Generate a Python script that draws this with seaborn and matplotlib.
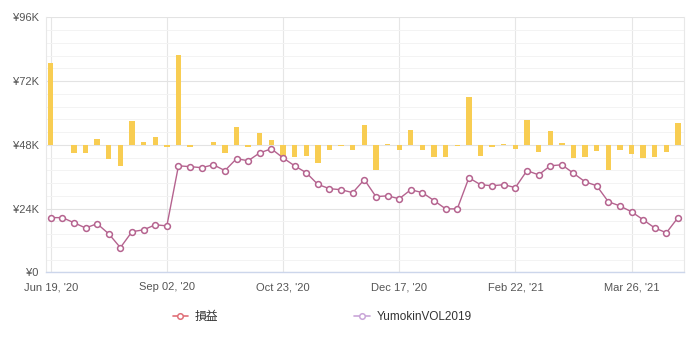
import numpy as np
import pandas as pd
import matplotlib
matplotlib.use("Agg")
import matplotlib.pyplot as plt
from matplotlib.lines import Line2D
from matplotlib.ticker import FuncFormatter, MultipleLocator
import seaborn as sns

# ---- data ----
x_tick_pos = [0, 10, 20, 30, 40, 50]
x_tick_labels = ["Jun 19, '20", "Sep 02, '20", "Oct 23, '20", "Dec 17, '20", "Feb 22, '21", "Mar 26, '21"]

# cumulative line (JPY thousands)
line_k = [20.6, 20.6, 18.7, 16.7, 18.3, 14.5, 9.3, 15.3, 16.0, 17.9,
          17.5, 40.1, 39.8, 39.4, 40.5, 38.3, 42.8, 42.0, 45.0, 46.5,
          43.1, 40.1, 37.5, 33.1, 31.5, 31.1, 30.0, 34.9, 28.5, 28.8,
          27.7, 31.1, 30.0, 27.0, 23.9, 23.9, 35.6, 33.0, 32.6, 33.0,
          31.9, 38.3, 36.7, 40.1, 40.5, 37.3, 34.1, 32.6, 26.6, 25.0,
          22.8, 19.8, 16.7, 14.9, 20.6]

# period P&L bars (JPY thousands, drawn around the ¥48K baseline)
bar_k = [30.9, 0.0, -3.0, -3.0, 2.3, -5.3, -7.9, 9.0, 1.1, 3.0,
         -0.75, 33.9, -0.75, 0.0, 1.1, -3.0, 6.8, -0.75, 4.5, 1.9,
         -4.5, -4.5, -4.1, -6.8, -1.9, -0.5, -1.9, 7.5, -9.4, 0.4,
         -1.9, 5.6, -1.9, -4.5, -4.5, -0.5, 18.1, -4.1, -0.75, 0.4,
         -1.5, 9.5, -2.6, 5.3, 0.75, -4.9, -4.5, -2.3, -9.4, -1.9,
         -3.4, -4.9, -4.5, -2.6, 8.3]
bar_baseline_k = 48

series_names = ["損益", "YumokinVOL2019"]

df = pd.DataFrame({
    "idx": np.arange(len(line_k)),
    "line": np.array(line_k) * 1000,
    "bar": np.array(bar_k) * 1000,
})

# ---- style ----
sns.set_theme(style="white")
plt.rcParams["font.family"] = ["Liberation Sans", "Noto Sans CJK JP", "DejaVu Sans"]

fig = plt.figure(figsize=(6.9, 3.4), dpi=100)
ax = fig.add_axes([0.0662, 0.199, 0.9255, 0.750])

# grid
ax.yaxis.set_major_locator(MultipleLocator(24000))
ax.yaxis.set_minor_locator(MultipleLocator(4800))
ax.grid(True, which="major", axis="y", color="#E3E3E3", linewidth=0.8)
ax.grid(True, which="minor", axis="y", color="#F3F3F3", linewidth=0.7)
ax.grid(True, which="major", axis="x", color="#E6E6E6", linewidth=0.8)
ax.set_axisbelow(True)

# bars
ax.bar(df["idx"], df["bar"], bottom=bar_baseline_k * 1000, width=0.46,
       color="#F8CD52", linewidth=0, zorder=2)

# line
sns.lineplot(data=df, x="idx", y="line", ax=ax, color="#B5638F", linewidth=1.0,
             marker="o", markersize=4.2, markerfacecolor="white",
             markeredgecolor="#B5638F", markeredgewidth=1.1, zorder=3)

ax.set_xlim(-0.43, 54.54)
ax.set_ylim(0, 96000)
ax.set_xticks(x_tick_pos)
ax.set_xticklabels(x_tick_labels)
ax.yaxis.set_major_formatter(FuncFormatter(lambda v, p: "¥0" if v == 0 else f"¥{int(v/1000)}K"))
ax.tick_params(axis="both", which="both", length=0, labelsize=8, colors="#555555")
ax.tick_params(axis="x", pad=7)
ax.tick_params(axis="y", pad=5)
ax.set_xlabel("")
ax.set_ylabel("")

ax.spines["top"].set_visible(False)
for s in ["left", "right"]:
    ax.spines[s].set_color("#E8E8E8")
    ax.spines[s].set_linewidth(0.8)
ax.spines["bottom"].set_color("#CCD6EB")
ax.spines["bottom"].set_linewidth(1.0)

# legend
handles = [
    Line2D([0], [0], color="#E07078", lw=1.2, marker="o", markersize=4,
           markerfacecolor="white", markeredgecolor="#E07078", markeredgewidth=1.1),
    Line2D([0], [0], color="#C9A5D8", lw=1.2, marker="o", markersize=4,
           markerfacecolor="white", markeredgecolor="#C9A5D8", markeredgewidth=1.1),
]
fig.legend(handles, series_names, loc="center", bbox_to_anchor=(0.467, 0.068),
           ncol=2, frameon=False, fontsize=8.5, handlelength=1.3, handletextpad=0.6,
           columnspacing=11.5, labelcolor="#333333")

fig.savefig("out.png", dpi=100)
